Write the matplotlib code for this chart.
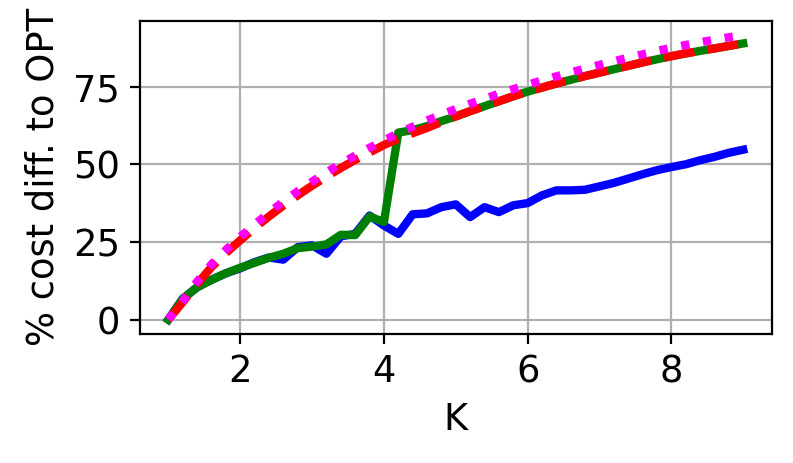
import matplotlib
matplotlib.use('Agg')
import matplotlib.pyplot as plt
import numpy as np

# K values (step 0.2 from 1 to 9)
k_vals = [1.0, 1.2, 1.4, 1.6, 1.8, 2.0, 2.2, 2.4, 2.6, 2.8, 3.0,
          3.2, 3.4, 3.6, 3.8, 4.0, 4.2, 4.4, 4.6, 4.8, 5.0,
          5.2, 5.4, 5.6, 5.8, 6.0, 6.2, 6.4, 6.6, 6.8, 7.0,
          7.2, 7.4, 7.6, 7.8, 8.0, 8.2, 8.4, 8.6, 8.8, 9.0]

blue_vals = [0, 6.7, 10.4, 12.8, 14.9, 16.5, 18.5, 20.0, 19.3, 23.3, 23.9,
             21.2, 26.8, 27.6, 33.5, 30.3, 27.6, 33.9, 34.2, 36.2, 37.1,
             33.0, 36.2, 34.6, 36.8, 37.5, 40.0, 41.6, 41.6, 41.8, 42.9,
             44.0, 45.4, 46.8, 48.1, 49.1, 50.0, 51.3, 52.4, 53.7, 54.7]

green_vals = [0, 6.7, 10.4, 12.8, 14.9, 16.7, 18.3, 19.9, 21.2, 23.0, 23.5,
              24.2, 27.3, 27.2, 33.2, 31.4, 60.2, 61.0, 62.3, 63.9, 65.4,
              67.1, 68.7, 70.3, 71.9, 73.4, 74.7, 76.0, 77.2, 78.4, 79.5,
              80.6, 81.7, 82.8, 83.8, 84.8, 85.7, 86.5, 87.3, 88.1, 88.9]

red_vals = [0, 5.6, 11.5, 16.9, 21.4, 25.5, 29.5, 33.2, 36.7, 40.0, 43.1,
            46.0, 48.8, 51.4, 53.8, 56.2, 58.2, 60.0, 61.7, 63.6, 65.4,
            67.1, 68.7, 70.3, 71.9, 73.4, 74.7, 76.0, 77.2, 78.4, 79.5,
            80.6, 81.7, 82.8, 83.8, 84.8, 85.7, 86.5, 87.3, 88.1, 88.9]

magenta_vals = [0, 6.0, 12.2, 17.8, 22.4, 26.6, 30.6, 34.4, 38.0, 41.3, 44.4,
                47.4, 50.2, 52.8, 55.3, 57.7, 60.0, 62.1, 64.1, 66.0, 67.8,
                69.5, 71.1, 72.7, 74.2, 75.6, 77.0, 78.3, 79.6, 80.8, 82.0,
                83.2, 84.3, 85.4, 86.5, 87.5, 88.4, 89.3, 90.1, 90.9, 91.6]

plt.rcParams['font.size'] = 13.3

fig = plt.figure(figsize=(3.965, 2.315), dpi=200)
ax = fig.add_axes([0.176, 0.279, 0.7975, 0.676])

ax.plot(k_vals, blue_vals, color='b', linewidth=3)
ax.plot(k_vals, green_vals, color='g', linewidth=3)
ax.plot(k_vals, red_vals, color='r', linewidth=3, linestyle='--')
ax.plot(k_vals, magenta_vals, color='magenta', linewidth=3, linestyle=':')

ax.set_xticks([2, 4, 6, 8])
ax.set_yticks([0, 25, 50, 75])
ax.grid(True)
ax.set_xlabel('K')
ax.set_ylabel('% cost diff. to OPT')

fig.savefig('out.png', dpi=200)
